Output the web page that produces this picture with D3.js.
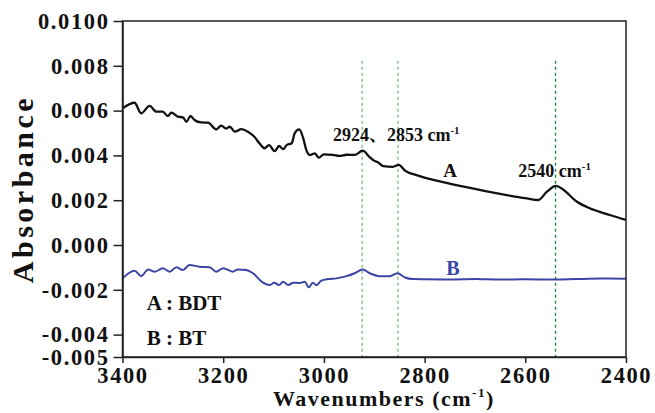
<!DOCTYPE html>
<html>
<head>
<meta charset="utf-8">
<script src="https://cdn.jsdelivr.net/npm/d3@7"></script>
<style>
  body { margin: 0; background: #fff; }
  svg { display: block; }
  text { font-family: "Liberation Serif", "Times New Roman", "Noto Serif CJK SC", "Noto Sans CJK SC", serif; font-weight: bold; }
</style>
</head>
<body>
<script>
// spectrum A (BDT)
var waveA = [3400, 3376, 3363, 3346, 3333, 3320, 3310, 3303, 3290, 3280,
             3273, 3265, 3257, 3244, 3230, 3214, 3204, 3194, 3187, 3177,
             3164, 3151, 3138, 3128, 3118, 3109, 3098, 3089, 3081, 3074,
             3064, 3058, 3049, 3041, 3035, 3028, 3018, 3010, 3000, 2982,
             2969, 2955, 2939, 2923, 2909, 2902, 2892, 2882, 2863, 2851,
             2839, 2816, 2776, 2717, 2650, 2597, 2574, 2557, 2539, 2525,
             2498, 2472, 2432, 2400];
var absA = [0.00610, 0.00635, 0.00588, 0.00621, 0.00595, 0.00595, 0.00576, 0.00591, 0.00573, 0.00570,
            0.00550, 0.00576, 0.00558, 0.00547, 0.00546, 0.00516, 0.00533, 0.00520, 0.00528, 0.00506,
            0.00517, 0.00506, 0.00483, 0.00454, 0.00432, 0.00446, 0.00419, 0.00442, 0.00428, 0.00446,
            0.00454, 0.00499, 0.00516, 0.00476, 0.00425, 0.00402, 0.00409, 0.00390, 0.00405, 0.00402,
            0.00398, 0.00403, 0.00402, 0.00421, 0.00392, 0.00379, 0.00368, 0.00352, 0.00349, 0.00358,
            0.00332, 0.00312, 0.00287, 0.00258, 0.00228, 0.00208, 0.00201, 0.00238, 0.00264, 0.00248,
            0.00194, 0.00164, 0.00134, 0.00112];

// spectrum B (BT)
var waveB = [3400, 3376, 3363, 3349, 3336, 3320, 3306, 3293, 3280, 3267,
             3247, 3227, 3214, 3200, 3181, 3171, 3154, 3141, 3121, 3107,
             3099, 3089, 3081, 3071, 3061, 3048, 3038, 3030, 3022, 3015,
             3005, 2992, 2975, 2955, 2939, 2923, 2909, 2889, 2869, 2854,
             2839, 2823, 2800, 2750, 2700, 2650, 2600, 2540, 2500, 2450, 2400];
var absB = [-0.00149, -0.00115, -0.00139, -0.00109, -0.00119, -0.00104, -0.00119, -0.00099, -0.00112, -0.00089,
            -0.00097, -0.00099, -0.00119, -0.00104, -0.00119, -0.00109, -0.00112, -0.00126, -0.00168, -0.00179,
            -0.00168, -0.00179, -0.00164, -0.00179, -0.00168, -0.00170, -0.00164, -0.00189, -0.00168, -0.00179,
            -0.00159, -0.00152, -0.00149, -0.00139, -0.00126, -0.00109, -0.00126, -0.00139, -0.00139, -0.00126,
            -0.00145, -0.00152, -0.00153, -0.00154, -0.00152, -0.00154, -0.00153, -0.00154, -0.00152, -0.00150, -0.00151];

var peaks = [2924, 2853, 2540];
var peakColors = ["#7fbf7f", "#7fbf7f", "#2a8445"];
var xTicks = [3400, 3200, 3000, 2800, 2600, 2400];
var yTicks = [-0.005, -0.004, -0.002, 0, 0.002, 0.004, 0.006, 0.008, 0.01];

var W = 655, H = 413;

var x = d3.scaleLinear().domain([3400, 2400]).range([122.5, 626]);
var y = d3.scaleLinear().domain([-0.005, 0.01]).range([357, 21]);

var svg = d3.select("body").append("svg")
  .attr("width", W)
  .attr("height", H);

function fmtY(d) {
  return d === 0.01 ? d.toFixed(4) : d.toFixed(3);
}

// reference lines at the peaks
svg.append("g")
  .selectAll("line")
  .data(peaks)
  .enter().append("line")
  .attr("x1", function(d){ return x(d); })
  .attr("x2", function(d){ return x(d); })
  .attr("y1", y(0.00823))
  .attr("y2", y(-0.005))
  .attr("stroke", function(d, i){ return peakColors[i]; })
  .attr("stroke-width", 1.4)
  .attr("stroke-dasharray", "3,3");

var line = d3.line()
  .x(function(d){ return x(d[0]); })
  .y(function(d){ return y(d[1]); })
  .curve(d3.curveMonotoneX);

svg.append("path")
  .datum(d3.zip(waveB, absB))
  .attr("d", line)
  .attr("fill", "none")
  .attr("stroke", "#3a45a5")
  .attr("stroke-width", 2)
  .attr("stroke-linejoin", "round");

svg.append("path")
  .datum(d3.zip(waveA, absA))
  .attr("d", line)
  .attr("fill", "none")
  .attr("stroke", "#111")
  .attr("stroke-width", 2.3)
  .attr("stroke-linejoin", "round");

// frame
svg.append("rect")
  .attr("x", x(3400))
  .attr("y", y(0.01))
  .attr("width", x(2400) - x(3400))
  .attr("height", y(-0.005) - y(0.01))
  .attr("fill", "none")
  .attr("stroke", "#222")
  .attr("stroke-width", 1.5);

var gy = svg.append("g")
  .attr("transform", "translate(" + x(3400) + ",0)")
  .call(d3.axisLeft(y).tickValues(yTicks).tickFormat(fmtY)
    .tickSize(9).tickPadding(4).tickSizeOuter(0));

var gx = svg.append("g")
  .attr("transform", "translate(0," + y(-0.005) + ")")
  .call(d3.axisBottom(x).tickValues(xTicks).tickFormat(d3.format("d"))
    .tickSize(6).tickSizeOuter(0));

[gx, gy].forEach(function(g){
  g.select(".domain").attr("stroke", "#222").attr("stroke-width", 1.5);
  g.selectAll(".tick line").attr("stroke", "#222").attr("stroke-width", 1.5);
  g.selectAll(".tick text")
    .attr("fill", "#111")
    .style("font-size", "22.5px")
    .style("letter-spacing", "1.6px")
    .style("font-family", null);
});
gx.selectAll(".tick text").attr("y", 26).attr("dy", null);

// axis titles
svg.append("text")
  .attr("transform", "translate(33," + ((y(0.01) + y(-0.005)) / 2) + ") rotate(-90)")
  .attr("text-anchor", "middle")
  .style("font-size", "30px")
  .style("letter-spacing", "3.5px")
  .attr("fill", "#111")
  .text("Absorbance");

var xt = svg.append("text")
  .attr("x", 273)
  .attr("y", 406)
  .style("font-size", "22px")
  .style("letter-spacing", "1.5px")
  .attr("fill", "#111");
xt.append("tspan").text("Wavenumbers (cm");
xt.append("tspan").attr("dy", -9).style("font-size", "13px").text("-1");
xt.append("tspan").attr("dy", 9).text(")");

// annotations
function label(wn, v, parts, size, color) {
  var t = svg.append("text")
    .attr("x", x(wn))
    .attr("y", y(v))
    .style("font-size", size + "px")
    .attr("fill", color || "#111");
  t.append("tspan").text(parts[0]);
  if (parts[1]) {
    t.append("tspan").attr("dy", -7).style("font-size", "11px").text(parts[1]);
  }
  return t;
}

label(2982, 0.00464, ["2924\u30012853 cm", "-1"], 18);
label(2614, 0.00304, ["2540 cm", "-1"], 18);
label(2763, 0.00304, ["A"], 19);
label(2757, -0.00134, ["B"], 20, "#3a45a5");
label(3352, -0.00290, ["A : BDT"], 21);
label(3352, -0.00446, ["B : BT"], 21);
</script>
</body>
</html>
